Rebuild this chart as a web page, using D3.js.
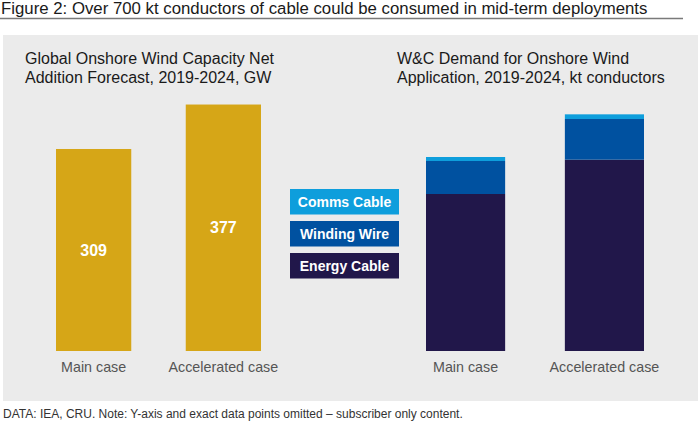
<!DOCTYPE html>
<html>
<head>
<meta charset="utf-8">
<script src="https://cdn.jsdelivr.net/npm/d3@7"></script>
<style>
  body { margin: 0; background: #fff; }
  svg { display: block; font-family: "Liberation Sans", Arial, sans-serif; }
</style>
</head>
<body>
<div id="chart"></div>
<script>
const cases = ["Main case", "Accelerated case"];
const capacity = [309, 377];           // GW
const energyCable = [471, 574];        // kt conductors (estimated, axis omitted)
const windingWire = [99, 122];
const commsCable = [12, 14];
const seriesNames = ["Energy Cable", "Winding Wire", "Comms Cable"];
const seriesColors = ["#21174a", "#0051a0", "#0e9edc"];

const w = 698, h = 425;
const svg = d3.select("#chart").append("svg").attr("width", w).attr("height", h);

// title
svg.append("text").text("Figure 2: Over 700 kt conductors of cable could be consumed in mid-term deployments")
  .attr("x", 1).attr("y", 14).attr("font-size", 16.8).attr("fill", "#1a1a1a");
svg.append("line").attr("x1", 0).attr("x2", 683).attr("y1", 18.5).attr("y2", 18.5)
  .attr("stroke", "#7a7a7a").attr("stroke-width", 1.3);

// panel
svg.append("rect").attr("x", 3).attr("y", 35).attr("width", 695).attr("height", 366).attr("fill", "#ebebeb");

// left chart
const leftTitle = svg.append("text").attr("font-size", 16).attr("fill", "#1a1a1a");
leftTitle.append("tspan").attr("x", 25).attr("y", 64).text("Global Onshore Wind Capacity Net");
leftTitle.append("tspan").attr("x", 25).attr("y", 83).text("Addition Forecast, 2019-2024, GW");

const xL = d3.scaleBand().domain(cases).range([56, 261]).paddingInner(0.42);
const yL = d3.scaleLinear().domain([0, 400]).range([351, 89.5]);

svg.append("g").selectAll("rect").data(capacity).join("rect")
  .attr("x", (d, i) => xL(cases[i]))
  .attr("width", xL.bandwidth())
  .attr("y", d => yL(d))
  .attr("height", d => yL(0) - yL(d))
  .attr("fill", "#d6a617");

svg.append("g").selectAll("text").data(capacity).join("text")
  .attr("x", (d, i) => xL(cases[i]) + xL.bandwidth() / 2)
  .attr("y", d => (yL(d) + yL(0)) / 2)
  .attr("dy", "0.35em")
  .attr("text-anchor", "middle")
  .attr("font-size", 16).attr("font-weight", "bold").attr("fill", "#fff")
  .text(d => d);

svg.append("g").selectAll("text").data(cases).join("text")
  .attr("x", d => xL(d) + xL.bandwidth() / 2)
  .attr("y", 372)
  .attr("text-anchor", "middle")
  .attr("font-size", 14.3).attr("fill", "#555")
  .text(d => d);

// right chart
const rightTitle = svg.append("text").attr("font-size", 16).attr("fill", "#1a1a1a");
rightTitle.append("tspan").attr("x", 397).attr("y", 64).text("W&C Demand for Onshore Wind");
rightTitle.append("tspan").attr("x", 397).attr("y", 83).text("Application, 2019-2024, kt conductors");

const rows = cases.map((c, i) => ({
  case: c,
  "Energy Cable": energyCable[i],
  "Winding Wire": windingWire[i],
  "Comms Cable": commsCable[i]
}));
const stacked = d3.stack().keys(seriesNames)(rows);

const xR = d3.scaleBand().domain(cases).range([426, 644]).paddingInner(0.43);
const yR = d3.scaleLinear().domain([0, 750]).range([351, 101]);
const color = d3.scaleOrdinal().domain(seriesNames).range(seriesColors);

svg.append("g").selectAll("g").data(stacked).join("g")
  .attr("fill", d => color(d.key))
  .selectAll("rect").data(d => d).join("rect")
  .attr("x", d => xR(d.data.case))
  .attr("width", xR.bandwidth())
  .attr("y", d => yR(d[1]))
  .attr("height", d => yR(d[0]) - yR(d[1]));

svg.append("g").selectAll("text").data(cases).join("text")
  .attr("x", d => xR(d) + xR.bandwidth() / 2)
  .attr("y", 372)
  .attr("text-anchor", "middle")
  .attr("font-size", 14.3).attr("fill", "#555")
  .text(d => d);

// legend
const legendOrder = seriesNames.slice().reverse();
const legend = svg.append("g").selectAll("g").data(legendOrder).join("g")
  .attr("transform", (d, i) => `translate(290,${189 + i * 32})`);
legend.append("rect").attr("width", 109).attr("height", 25.5).attr("fill", d => color(d));
legend.append("text")
  .attr("x", 54.5).attr("y", 12.75).attr("dy", "0.35em")
  .attr("text-anchor", "middle")
  .attr("font-size", 14).attr("font-weight", "bold").attr("fill", "#fff")
  .text(d => d);

// footer
svg.append("text").text("DATA: IEA, CRU. Note: Y-axis and exact data points omitted – subscriber only content.")
  .attr("x", 3).attr("y", 418).attr("font-size", 12).attr("fill", "#333");
</script>
</body>
</html>
